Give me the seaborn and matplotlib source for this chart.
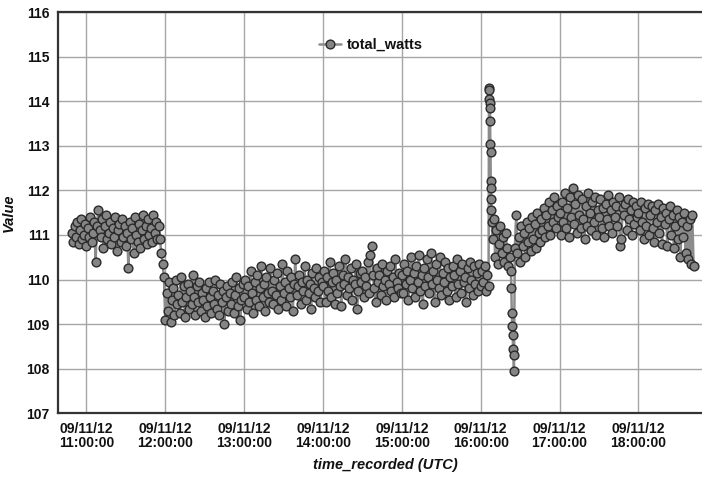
import matplotlib
matplotlib.use("Agg")
import matplotlib.pyplot as plt
import matplotlib.dates as mdates
import pandas as pd
import seaborn as sns

# ---- data ----
watts_1049 = [  # 10:49 - 11:59, one per minute
    111.05, 110.85, 111.2, 110.95, 111.3, 110.8, 111.1, 111.35, 110.9, 111.0,
    111.25, 110.75, 111.15, 110.95, 111.4, 110.85, 111.05, 111.3, 110.4, 111.2,
    111.55, 111.1, 110.95, 111.35, 110.7, 111.2, 111.45, 110.9, 111.05, 111.3,
    110.8, 111.15, 110.95, 111.4, 110.65, 111.1, 111.25, 110.85, 111.35, 110.95,
    111.2, 110.75, 111.05, 110.25, 111.3, 110.9, 111.15, 110.6, 111.4, 111.0,
    110.85, 111.25, 110.7, 111.1, 111.45, 110.9, 111.2, 110.8, 111.35, 111.0,
    111.15, 110.85, 111.45, 111.05, 111.3, 110.9,
    111.2, 110.9, 110.6, 110.35, 110.05,
]
watts_12 = [
    109.1, 109.7, 109.3, 109.95, 109.05, 109.55, 109.8, 109.2, 110.0, 109.45,
    109.65, 109.25, 110.05, 109.5, 109.85, 109.15, 109.6, 109.9, 109.35, 109.75,
    109.45, 110.1, 109.6, 109.2, 109.85, 109.5, 109.95, 109.3, 109.7, 109.55,
    109.15, 109.8, 109.4, 109.95, 109.6, 109.25, 109.75, 109.45, 110.0, 109.35,
    109.65, 109.2, 109.9, 109.5, 109.75, 109.0, 109.6, 109.85, 109.3, 109.7,
    109.45, 109.95, 109.25, 109.65, 110.05, 109.4, 109.8, 109.1, 109.55, 109.9,
]
watts_13 = [
    109.6, 110.0, 109.35, 109.85, 109.5, 110.2, 109.7, 109.25, 109.95, 109.55,
    110.1, 109.4, 109.8, 110.3, 109.6, 109.9, 109.3, 110.05, 109.7, 109.5,
    110.25, 109.75, 109.45, 110.0, 109.65, 110.15, 109.35, 109.85, 109.55, 110.35,
    109.7, 109.95, 109.4, 110.2, 109.8, 109.6, 110.05, 109.3, 109.9, 110.45,
    109.65, 109.85, 110.1, 109.45, 109.95, 109.75, 110.3, 109.55, 110.0, 109.7,
    109.9, 109.35, 110.15, 109.8, 109.6, 110.25, 109.75, 110.05, 109.5, 109.95,
]
watts_14 = [
    109.85, 110.2, 109.5, 110.05, 109.75, 110.4, 109.6, 109.95, 110.15, 109.45,
    110.0, 109.7, 110.3, 109.85, 109.4, 110.1, 109.9, 110.45, 109.65, 110.05,
    109.8, 110.25, 109.55, 110.0, 109.9, 110.35, 109.35, 109.75, 110.15, 109.95,
    110.2, 109.6, 110.05, 109.85, 110.4, 109.7, 110.55, 110.75, 110.1, 109.8,
    109.5, 110.25, 109.95, 110.1, 109.65, 110.35, 109.85, 110.0, 109.55, 110.2,
    109.9, 110.3, 109.75, 110.05, 109.6, 110.45, 109.95, 109.8, 110.15, 109.7,
]
watts_15 = [
    110.1, 109.7, 110.35, 109.9, 110.2, 109.55, 110.0, 110.5, 109.8, 110.15,
    109.6, 110.3, 109.95, 110.55, 109.75, 110.1, 109.45, 110.25, 109.85, 110.45,
    110.05, 109.7, 110.6, 109.9, 110.2, 109.5, 110.35, 110.0, 109.8, 110.5,
    109.65, 110.15, 109.95, 110.4, 109.75, 110.25, 109.55, 110.05, 109.85, 110.3,
    110.1, 109.6, 110.45, 109.9, 110.2, 109.7, 110.35, 109.95, 110.05, 109.5,
    110.25, 109.8, 110.4, 110.0, 109.65, 110.3, 109.9, 110.15, 109.75, 110.35,
]
watts_1600 = [109.85, 110.2, 109.95, 110.3, 109.75, 110.1, 109.85]
watts_spike = [114.3, 114.25, 114.05, 113.95, 113.85, 113.55, 113.05, 112.85,
               112.2, 112.05, 111.8, 111.55, 111.3]
watts_1609 = [110.9, 111.35, 110.5, 111.1, 110.35, 110.8, 111.2, 110.6, 110.95,
              110.4, 111.05, 110.7, 110.3, 110.5]
watts_dip = [110.2, 109.8, 109.25, 108.95, 108.75, 108.45, 108.3, 107.95]
watts_1626 = [
    110.7, 111.45, 110.6, 110.95, 110.4, 111.2, 110.75, 111.05, 110.5, 111.3,
    110.85, 111.15, 110.65, 111.4, 110.9, 111.25, 110.7, 111.5, 111.05, 110.85,
    111.35, 111.1, 111.6, 110.95, 111.45, 111.2, 111.75, 111.0, 111.55, 111.3,
    111.85, 111.15, 111.65, 111.4,
]
watts_17 = [
    111.5, 111.0, 111.75, 111.3, 111.95, 111.15, 111.6, 110.95, 111.85, 111.4,
    112.05, 111.25, 111.7, 111.05, 111.9, 111.45, 111.15, 111.8, 111.35, 110.9,
    111.65, 111.2, 111.95, 111.5, 111.1, 111.75, 111.3, 111.85, 111.0, 111.55,
    111.4, 111.8, 111.15, 111.6, 110.95, 111.7, 111.35, 111.9, 111.2, 111.55,
    111.05, 111.75, 111.4, 111.65, 111.2, 111.85, 110.75, 110.9, 111.6, 111.45,
    111.7, 111.1, 111.8, 111.35, 111.55, 111.0, 111.75, 111.25, 111.65, 111.4,
]
watts_18 = [
    111.5, 111.1, 111.75, 111.3, 110.9, 111.6, 111.2, 111.7, 111.0, 111.45,
    111.65, 111.15, 110.85, 111.55, 111.3, 111.7, 111.05, 111.4, 110.8, 111.6,
    111.25, 111.5, 110.75, 111.35, 111.65, 111.0, 111.45, 110.7, 111.2, 111.55,
    110.9, 111.4, 110.5, 111.3, 110.95, 111.5, 110.6, 111.2, 110.45, 111.35,
    110.35, 111.45, 110.3,
]

# recording segments: (first timestamp, sampling interval, values)
segments = [
    ("2012-09-11 10:49:00", "60s", watts_1049),
    ("2012-09-11 12:00:00", "60s", watts_12),
    ("2012-09-11 13:00:00", "60s", watts_13),
    ("2012-09-11 14:00:00", "60s", watts_14),
    ("2012-09-11 15:00:00", "60s", watts_15),
    ("2012-09-11 16:00:00", "60s", watts_1600),
    ("2012-09-11 16:06:20", "10s", watts_spike),
    ("2012-09-11 16:09:00", "60s", watts_1609),
    ("2012-09-11 16:23:00", "20s", watts_dip),
    ("2012-09-11 16:26:00", "60s", watts_1626),
    ("2012-09-11 17:00:00", "60s", watts_17),
    ("2012-09-11 18:00:00", "60s", watts_18),
]

times, values = [], []
for start, freq, vals in segments:
    times.extend(pd.date_range(start, periods=len(vals), freq=freq))
    values.extend(vals)
df = pd.DataFrame({"time_recorded": times, "total_watts": values})

# ---- styling ----
sns.set_style("white")
plt.rcParams["font.family"] = ["Liberation Sans", "DejaVu Sans"]
plt.rcParams["font.weight"] = "bold"

W, H = 702, 478
fig = plt.figure(figsize=(W / 100, H / 100), dpi=100)
left, right, top, bottom = 58, 702, 12, 413.3
ax = fig.add_axes([left / W, 1 - bottom / H, (right - left) / W, (bottom - top) / H])

sns.lineplot(
    data=df, x="time_recorded", y="total_watts", ax=ax,
    color="#8c8c8c", linewidth=1.8, marker="o", markersize=6.3,
    markerfacecolor="#858585", markeredgecolor="#2a2a2a", markeredgewidth=1.0,
    label="total_watts", zorder=3,
)

ax.set_xlim(pd.Timestamp("2012-09-11 10:38:24"), pd.Timestamp("2012-09-11 18:48:24"))
ax.set_ylim(107, 116)
ax.set_yticks(range(107, 117))
ax.xaxis.set_major_locator(mdates.HourLocator())
ax.xaxis.set_major_formatter(mdates.DateFormatter("%m/%d/%y\n%H:%M:%S"))

ax.grid(True, color="#a6a6a6", linewidth=1.0)
ax.set_axisbelow(True)
ax.tick_params(axis="both", length=0, labelsize=10, colors="#111111")
ax.tick_params(axis="x", pad=6)
ax.tick_params(axis="y", pad=6)
for lbl in ax.get_xticklabels():
    lbl.set_linespacing(1.05)
    lbl.set_fontweight("bold")
for lbl in ax.get_yticklabels():
    lbl.set_fontweight("bold")

for side in ("left", "bottom", "top"):
    ax.spines[side].set_color("#333333")
    ax.spines[side].set_linewidth(1.6)
ax.spines["right"].set_visible(False)

ax.set_xlabel("time_recorded (UTC)", fontsize=10.5, fontweight="bold",
              fontstyle="italic", color="#111111")
ax.xaxis.set_label_coords(0.508, -0.112)
ax.set_ylabel("Value", fontsize=10.5, fontweight="bold", fontstyle="italic",
              color="#111111")
ax.yaxis.set_label_coords(-0.066, 0.5)

leg = ax.legend(loc="center", bbox_to_anchor=(371 / W, 1 - 45 / H),
                bbox_transform=fig.transFigure, frameon=False,
                fontsize=10.5, handlelength=1.5, handletextpad=0.4)
for t in leg.get_texts():
    t.set_fontweight("bold")
    t.set_color("#111111")

fig.savefig("out.png", dpi=100)
